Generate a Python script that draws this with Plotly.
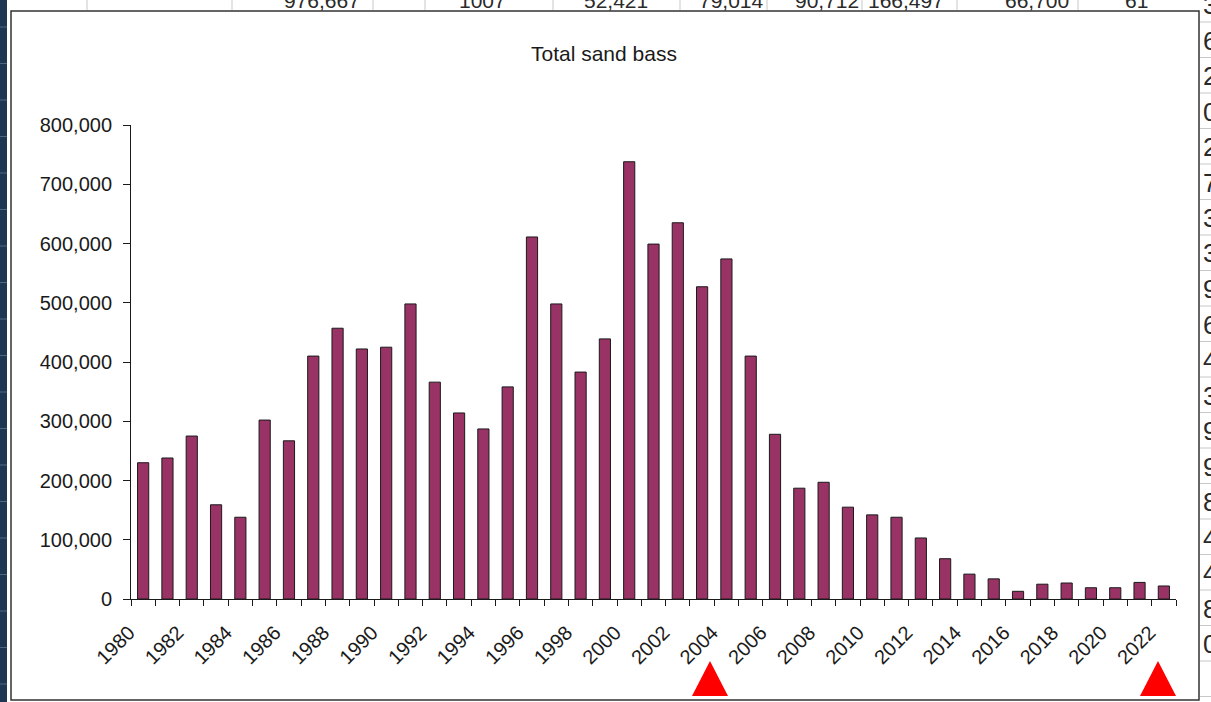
import plotly.graph_objects as go

# Annual totals
years = list(range(1980, 2023))
totals = [
    230000, 238000, 275000, 159000, 138000, 302000, 267000, 410000, 457000, 422000,
    425000, 498000, 366000, 314000, 287000, 358000, 611000, 498000, 383000, 439000,
    738000, 599000, 635000, 527000, 574000, 410000, 278000, 187000, 197000, 155000,
    142000, 138000, 103000, 68000, 42000, 34000, 13000, 25000, 27000, 19000,
    19000, 28000, 22000,
]
label_years = list(range(1980, 2023, 2))
y_ticks = list(range(0, 800001, 100000))

# bits of the spreadsheet showing around the chart
top_cells = ["976,667", "1007", "52,421", "79,014", "90,712", "166,497", "66,700", "61"]
top_cell_x = [322, 482, 616, 731, 827, 906, 1037, 1136]
right_digits = ["3", "6", "2", "0", "2", "7", "3", "3", "9", "6", "4", "3", "9", "9", "8", "4", "4", "8", "0"]

W, H = 1211, 702
L, R, T, B = 131, 1176, 125, 599
FONT = "Liberation Sans, Arial, sans-serif"


def px(x):
    return (x - L) / (R - L)


def py(y):
    return (B - y) / (B - T)


fig = go.Figure()
fig.add_trace(go.Bar(
    x=years, y=totals,
    marker=dict(color="#993366", line=dict(color="#1a1a1a", width=1)),
))

shapes = [
    # dark strip on the far left
    dict(type="rect", xref="paper", yref="paper", x0=px(-5), x1=px(7), y0=py(-5), y1=py(710),
         fillcolor="#1d3652", line=dict(width=0), layer="below"),
    # chart area
    dict(type="rect", xref="paper", yref="paper", x0=px(11), x1=px(1199), y0=py(700), y1=py(11),
         fillcolor="white", line=dict(color="#333333", width=1.5), layer="below"),
]
for gx in [87, 232, 373, 425, 553, 680, 767, 862, 957, 1078]:
    shapes.append(dict(type="line", xref="paper", yref="paper", x0=px(gx), x1=px(gx), y0=py(0), y1=py(10),
                       line=dict(color="#c8c8c8", width=1), layer="below"))
for i in range(len(right_digits) + 1):
    gy = 22 + i * 35.5
    shapes.append(dict(type="line", xref="paper", yref="paper", x0=px(1200), x1=px(1212), y0=py(gy), y1=py(gy),
                       line=dict(color="#c8c8c8", width=1), layer="below"))
for i in range(20):
    gy = 27 + i * 36.5
    shapes.append(dict(type="line", xref="paper", yref="paper", x0=px(0), x1=px(7), y0=py(gy), y1=py(gy),
                       line=dict(color="#4f6680", width=1), layer="below"))
# red markers under the axis
for cx in [710, 1158]:
    shapes.append(dict(type="path", xref="paper", yref="paper",
                       path=f"M {px(cx - 18)} {py(696)} L {px(cx)} {py(661)} L {px(cx + 18)} {py(696)} Z",
                       fillcolor="#ff0000", line=dict(width=0)))

annotations = [
    dict(text="Total sand bass", xref="paper", yref="paper", x=px(604), y=py(53),
         xanchor="center", yanchor="middle", showarrow=False,
         font=dict(family=FONT, size=21, color="#1a1a1a")),
]
for txt, cx in zip(top_cells, top_cell_x):
    annotations.append(dict(text=txt, xref="paper", yref="paper", x=px(cx), y=py(14),
                            xanchor="center", yanchor="bottom", showarrow=False,
                            font=dict(family=FONT, size=21, color="#2a2a2a")))
for i, d in enumerate(right_digits):
    annotations.append(dict(text=d, xref="paper", yref="paper", x=px(1201), y=py(5 + i * 35.5),
                            xanchor="left", yanchor="middle", showarrow=False,
                            font=dict(family=FONT, size=26, color="#2a2a2a")))

fig.update_layout(
    width=W, height=H,
    margin=dict(l=L, r=W - R, t=T, b=H - B),
    paper_bgcolor="white", plot_bgcolor="rgba(0,0,0,0)",
    showlegend=False, bargap=0.54,
    font=dict(family=FONT, size=20, color="#1a1a1a"),
    shapes=shapes, annotations=annotations,
    xaxis=dict(
        range=[1979.5, 2022.5], tickmode="array", tickvals=label_years,
        ticktext=[str(y) for y in label_years], tickangle=-45,
        ticks="outside", ticklen=13, tickcolor="rgba(0,0,0,0)", ticklabelshift=-14,
        showline=True, linecolor="#1a1a1a", linewidth=1, showgrid=False, zeroline=False,
        minor=dict(tickmode="array", tickvals=[y + 0.5 for y in range(1979, 2023)],
                   ticks="outside", ticklen=6, tickcolor="#1a1a1a", showgrid=False),
        tickfont=dict(size=20),
    ),
    yaxis=dict(
        range=[0, 800000], tickmode="array", tickvals=y_ticks,
        ticktext=[f"{v:,}" for v in y_ticks],
        ticks="outside", ticklen=7, tickcolor="#1a1a1a", ticklabelstandoff=7,
        showline=True, linecolor="#1a1a1a", linewidth=1, showgrid=False, zeroline=False,
        tickfont=dict(size=20),
    ),
)

fig.write_html(
    "out.html",
    config={"displayModeBar": False},
    post_script="document.body.style.margin='0';document.body.style.overflow='hidden';",
)
